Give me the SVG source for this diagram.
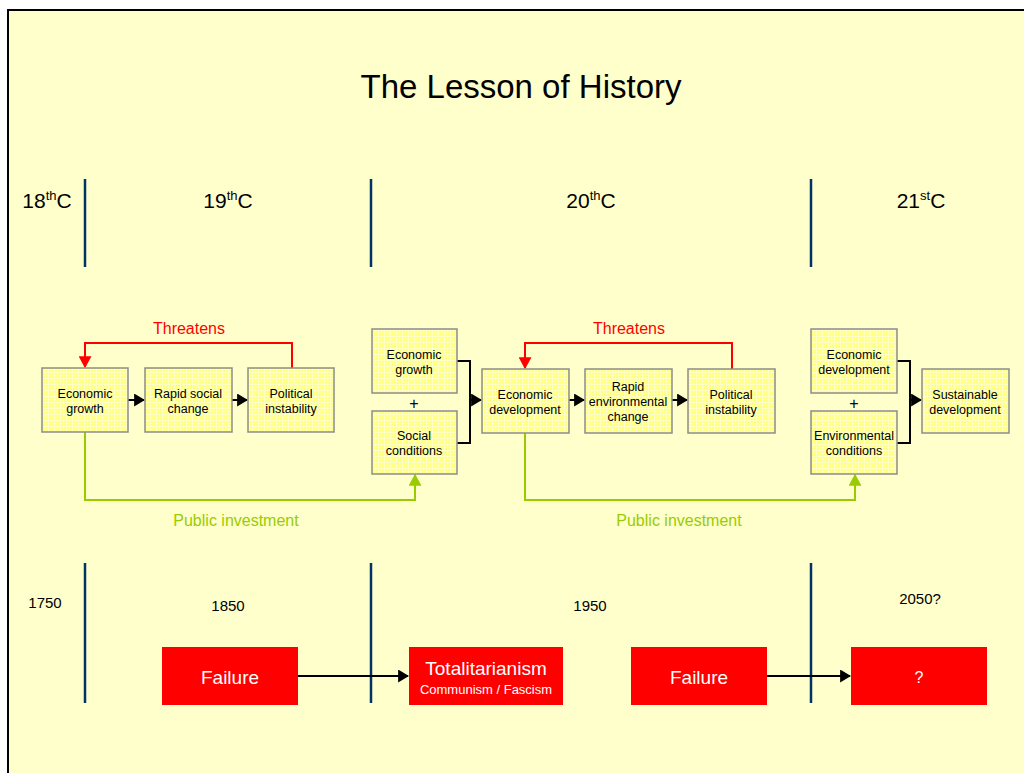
<svg xmlns="http://www.w3.org/2000/svg" width="1024" height="773" viewBox="0 0 1024 773">
<defs>
<pattern id="grid" width="3" height="3" patternUnits="userSpaceOnUse">
<rect width="3" height="3" fill="#FFFF80"/>
<path d="M0 0.5H3M0.5 0V3" stroke="#FFFFC4" stroke-width="1"/>
</pattern>
<marker id="ab" viewBox="0 0 10 10" refX="9" refY="5" markerWidth="11" markerHeight="13" markerUnits="userSpaceOnUse" orient="auto" preserveAspectRatio="none"><path d="M0 0L10 5L0 10Z" fill="#000"/></marker>
<marker id="ar" viewBox="0 0 10 10" refX="9" refY="5" markerWidth="12" markerHeight="13" markerUnits="userSpaceOnUse" orient="auto" preserveAspectRatio="none"><path d="M0 0L10 5L0 10Z" fill="#FF0000"/></marker>
<marker id="ag" viewBox="0 0 10 10" refX="9" refY="5" markerWidth="12" markerHeight="13" markerUnits="userSpaceOnUse" orient="auto" preserveAspectRatio="none"><path d="M0 0L10 5L0 10Z" fill="#99CC00"/></marker>
</defs>
<style>
text{font-family:"Liberation Sans",Arial,sans-serif;fill:#000}
.box{fill:url(#grid);stroke:#8C8C8C;stroke-width:1.5}
.bt{font-size:12.5px;text-anchor:middle}
.red{fill:#FF0000}
.rt{fill:#fff;text-anchor:middle}
.cen{font-size:21px;text-anchor:middle}
.yr{font-size:15px;text-anchor:middle}
.vl{stroke:#003366;stroke-width:2.5}
.blk{stroke:#000;stroke-width:2;fill:none}
</style>
<rect width="1024" height="773" fill="#fff"/>
<rect x="8" y="10" width="1030" height="780" fill="#FFFFCC" stroke="#000" stroke-width="2"/>
<text x="521" y="98" font-size="33" text-anchor="middle">The Lesson of History</text>

<g id="timeline">
<line class="vl" x1="85" y1="179" x2="85" y2="267"/>
<line class="vl" x1="371" y1="179" x2="371" y2="267"/>
<line class="vl" x1="811" y1="179" x2="811" y2="267"/>
<line class="vl" x1="85" y1="563" x2="85" y2="703"/>
<line class="vl" x1="371" y1="563" x2="371" y2="703"/>
<line class="vl" x1="811" y1="563" x2="811" y2="703"/>
<text x="47" y="208" class="cen">18<tspan font-size="13" dy="-8">th</tspan><tspan dy="8">C</tspan></text>
<text x="228" y="208" class="cen">19<tspan font-size="13" dy="-8">th</tspan><tspan dy="8">C</tspan></text>
<text x="591" y="208" class="cen">20<tspan font-size="13" dy="-8">th</tspan><tspan dy="8">C</tspan></text>
<text x="921" y="208" class="cen">21<tspan font-size="13" dy="-8">st</tspan><tspan dy="8">C</tspan></text>
<text x="45" y="608" class="yr">1750</text>
<text x="228" y="611" class="yr">1850</text>
<text x="590" y="611" class="yr">1950</text>
<text x="920" y="604" class="yr">2050?</text>
</g>

<g id="connectors">
<path class="blk" d="M128 400H144" marker-end="url(#ab)"/>
<path class="blk" d="M232 400H247" marker-end="url(#ab)"/>
<path class="blk" d="M457 361H470V443H457"/>
<path class="blk" d="M470 400H481" marker-end="url(#ab)"/>
<path class="blk" d="M569 400H584" marker-end="url(#ab)"/>
<path class="blk" d="M672 400H687" marker-end="url(#ab)"/>
<path class="blk" d="M897 361H910V443H897"/>
<path class="blk" d="M910 400H921" marker-end="url(#ab)"/>
<path d="M292 368V343H85V367" stroke="#FF0000" stroke-width="2" fill="none" marker-end="url(#ar)"/>
<path d="M732 369V343H525V368" stroke="#FF0000" stroke-width="2" fill="none" marker-end="url(#ar)"/>
<path d="M85 432V500H415V475" stroke="#99CC00" stroke-width="2" fill="none" marker-end="url(#ag)"/>
<path d="M525 433V500H855V475" stroke="#99CC00" stroke-width="2" fill="none" marker-end="url(#ag)"/>
<path class="blk" d="M298 676H408" marker-end="url(#ab)"/>
<path class="blk" d="M767 676H850" marker-end="url(#ab)"/>
<text x="189" y="334" font-size="16" text-anchor="middle" style="fill:#FF0000">Threatens</text>
<text x="629" y="334" font-size="16" text-anchor="middle" style="fill:#FF0000">Threatens</text>
<text x="236" y="526" font-size="16" text-anchor="middle" style="fill:#99CC00">Public investment</text>
<text x="679" y="526" font-size="16" text-anchor="middle" style="fill:#99CC00">Public investment</text>
<text x="414" y="409" font-size="16" text-anchor="middle">+</text>
<text x="854" y="409" font-size="16" text-anchor="middle">+</text>
</g>

<g id="n1"><rect class="box" x="42" y="368" width="86" height="64"/><text class="bt" x="85" y="398">Economic</text><text class="bt" x="85" y="413">growth</text></g>
<g id="n2"><rect class="box" x="145" y="368" width="87" height="64"/><text class="bt" x="188" y="398">Rapid social</text><text class="bt" x="188" y="413">change</text></g>
<g id="n3"><rect class="box" x="248" y="368" width="86" height="64"/><text class="bt" x="291" y="398">Political</text><text class="bt" x="291" y="413">instability</text></g>
<g id="n4"><rect class="box" x="372" y="329" width="85" height="64"/><text class="bt" x="414" y="359">Economic</text><text class="bt" x="414" y="374">growth</text></g>
<g id="n5"><rect class="box" x="372" y="411" width="85" height="63"/><text class="bt" x="414" y="440">Social</text><text class="bt" x="414" y="455">conditions</text></g>
<g id="n6"><rect class="box" x="482" y="369" width="87" height="64"/><text class="bt" x="525" y="399">Economic</text><text class="bt" x="525" y="414">development</text></g>
<g id="n7"><rect class="box" x="585" y="369" width="87" height="64"/><text class="bt" x="628" y="391">Rapid</text><text class="bt" x="628" y="406">environmental</text><text class="bt" x="628" y="421">change</text></g>
<g id="n8"><rect class="box" x="688" y="369" width="87" height="64"/><text class="bt" x="731" y="399">Political</text><text class="bt" x="731" y="414">instability</text></g>
<g id="n9"><rect class="box" x="811" y="329" width="86" height="64"/><text class="bt" x="854" y="359">Economic</text><text class="bt" x="854" y="374">development</text></g>
<g id="n10"><rect class="box" x="811" y="411" width="86" height="63"/><text class="bt" x="854" y="440">Environmental</text><text class="bt" x="854" y="455">conditions</text></g>
<g id="n11"><rect class="box" x="922" y="369" width="87" height="64"/><text class="bt" x="965" y="399">Sustainable</text><text class="bt" x="965" y="414">development</text></g>

<g id="f1"><rect class="red" x="162" y="647" width="136" height="58"/><text class="rt" x="230" y="684" font-size="19">Failure</text></g>
<g id="f2"><rect class="red" x="409" y="647" width="154" height="58"/><text class="rt" x="486" y="675" font-size="19">Totalitarianism</text><text class="rt" x="486" y="694" font-size="13">Communism / Fascism</text></g>
<g id="f3"><rect class="red" x="631" y="647" width="136" height="58"/><text class="rt" x="699" y="684" font-size="19">Failure</text></g>
<g id="f4"><rect class="red" x="851" y="647" width="136" height="58"/><text class="rt" x="919" y="683" font-size="16">?</text></g>
</svg>
